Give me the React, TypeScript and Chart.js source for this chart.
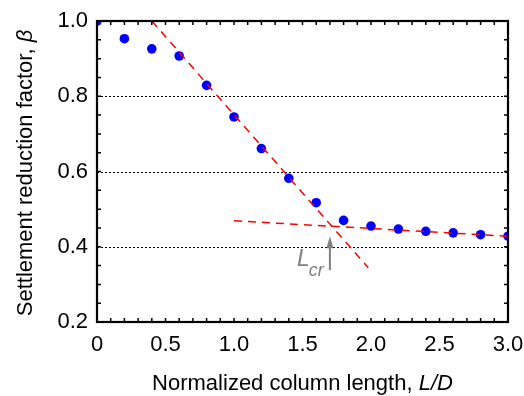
import React, { useEffect, useRef } from 'react';
import { Chart, registerables } from 'chart.js';

Chart.register(...registerables);

// ---- data ----
const lengthRatio = [0, 0.2, 0.4, 0.6, 0.8, 1.0, 1.2, 1.4, 1.6, 1.8, 2.0, 2.2, 2.4, 2.6, 2.8, 3.0];
const beta = [1.0, 0.953, 0.926, 0.907, 0.829, 0.745, 0.661, 0.582, 0.517, 0.47, 0.455, 0.447, 0.441, 0.437, 0.432, 0.428];

const steepFitX = [0.4, 1.98];
const steepFitY = [1.0, 0.344];
const flatFitX = [1.0, 3.0];
const flatFitY = [0.469, 0.428];

const lcrArrowX = 1.7;
const lcrArrowY = [0.338, 0.428];
const lcrLabelPos = [1.46, 0.349];

const xTickValues = [0, 0.5, 1.0, 1.5, 2.0, 2.5, 3.0];
const yTickValues = [0.2, 0.4, 0.6, 0.8, 1.0];
const yGridValues = [0.4, 0.6, 0.8];

const FONT = '"Liberation Sans", Arial, Helvetica, sans-serif';

type Seg = { t: string; italic?: boolean };

function drawSegs(ctx: CanvasRenderingContext2D, segs: Seg[], size: number, cx: number, cy: number) {
  const widths = segs.map((s) => {
    ctx.font = `${s.italic ? 'italic ' : ''}${size}px ${FONT}`;
    return ctx.measureText(s.t).width;
  });
  const total = widths.reduce((a, b) => a + b, 0);
  let x = cx - total / 2;
  ctx.textBaseline = 'middle';
  ctx.textAlign = 'left';
  segs.forEach((s, i) => {
    ctx.font = `${s.italic ? 'italic ' : ''}${size}px ${FONT}`;
    ctx.fillText(s.t, x, cy);
    x += widths[i];
  });
}

const decorPlugin = {
  id: 'decor',
  beforeDatasetsDraw(chart: any) {
    const { ctx, chartArea: a, scales } = chart;
    const ys = scales.y;
    ctx.save();
    ctx.strokeStyle = '#000';
    ctx.lineWidth = 1;
    ctx.setLineDash([2, 2]);
    yGridValues.forEach((v) => {
      const py = Math.round(ys.getPixelForValue(v)) + 0.5;
      ctx.beginPath();
      ctx.moveTo(a.left, py);
      ctx.lineTo(a.right, py);
      ctx.stroke();
    });
    ctx.restore();
  },
  afterDatasetsDraw(chart: any) {
    const { ctx, chartArea: a, scales } = chart;
    const xs = scales.x;
    const ys = scales.y;
    ctx.save();
    // minor ticks
    ctx.strokeStyle = '#000';
    ctx.lineWidth = 1.5;
    ctx.setLineDash([]);
    const tl = 4;
    for (let i = 0; i <= 30; i++) {
      const px = xs.getPixelForValue(i / 10);
      ctx.beginPath();
      ctx.moveTo(px, a.bottom);
      ctx.lineTo(px, a.bottom - tl);
      ctx.moveTo(px, a.top);
      ctx.lineTo(px, a.top + tl);
      ctx.stroke();
    }
    for (let i = 4; i <= 20; i++) {
      const py = ys.getPixelForValue(i * 0.05);
      ctx.beginPath();
      ctx.moveTo(a.left, py);
      ctx.lineTo(a.left + tl, py);
      ctx.moveTo(a.right, py);
      ctx.lineTo(a.right - tl, py);
      ctx.stroke();
    }
    // frame
    ctx.lineWidth = 2.2;
    ctx.strokeRect(a.left, a.top, a.right - a.left, a.bottom - a.top);

    // arrow
    const ax = xs.getPixelForValue(lcrArrowX);
    const ay0 = ys.getPixelForValue(lcrArrowY[0]);
    const ay1 = ys.getPixelForValue(lcrArrowY[1]);
    ctx.strokeStyle = '#808080';
    ctx.fillStyle = '#808080';
    ctx.lineWidth = 2;
    ctx.beginPath();
    ctx.moveTo(ax, ay0);
    ctx.lineTo(ax, ay1 + 10);
    ctx.stroke();
    ctx.beginPath();
    ctx.moveTo(ax, ay1);
    ctx.lineTo(ax - 3.5, ay1 + 12);
    ctx.lineTo(ax + 3.5, ay1 + 12);
    ctx.closePath();
    ctx.fill();

    // L_cr label
    const lx = xs.getPixelForValue(lcrLabelPos[0]);
    const ly = ys.getPixelForValue(lcrLabelPos[1]);
    ctx.textAlign = 'left';
    ctx.textBaseline = 'alphabetic';
    ctx.font = `italic 23px ${FONT}`;
    ctx.fillText('L', lx, ly);
    const lw = ctx.measureText('L').width;
    ctx.font = `italic 18px ${FONT}`;
    ctx.fillText('cr', lx + lw - 1, ly + 10);

    // axis titles
    ctx.fillStyle = '#000';
    drawSegs(ctx, [{ t: 'Normalized column length, ' }, { t: 'L/D', italic: true }], 22, (a.left + a.right) / 2, 384);
    ctx.save();
    ctx.translate(26, 173);
    ctx.rotate(-Math.PI / 2);
    drawSegs(ctx, [{ t: 'Settlement reduction factor, ' }, { t: 'β', italic: true }], 22, 0, 0);
    ctx.restore();
    ctx.restore();
  },
};

export default function App() {
  const ref = useRef<HTMLCanvasElement>(null);
  useEffect(() => {
    document.body.style.margin = '0';
    const canvas = ref.current;
    if (!canvas) return;
    const chart = new Chart(canvas, {
      type: 'scatter',
      data: {
        datasets: [
          {
            type: 'line',
            data: steepFitX.map((x, i) => ({ x, y: steepFitY[i] })),
            borderColor: '#ff0000',
            borderWidth: 1.5,
            borderDash: [8, 6],
            pointRadius: 0,
            fill: false,
            clip: 0,
          } as any,
          {
            type: 'line',
            data: flatFitX.map((x, i) => ({ x, y: flatFitY[i] })),
            borderColor: '#ff0000',
            borderWidth: 1.5,
            borderDash: [8, 6],
            pointRadius: 0,
            fill: false,
            clip: 0,
          } as any,
          {
            type: 'scatter',
            data: lengthRatio.map((x, i) => ({ x, y: beta[i] })),
            backgroundColor: '#0000ff',
            borderColor: '#0000ff',
            pointRadius: 4.8,
            borderWidth: 0,
            clip: 0,
          } as any,
        ],
      },
      options: {
        animation: false,
        responsive: false,
        events: [],
        layout: { padding: { left: 0, right: 16, top: 21, bottom: 0 } },
        plugins: { legend: { display: false }, tooltip: { enabled: false } },
        scales: {
          x: {
            type: 'linear',
            min: 0,
            max: 3,
            grid: { display: false, drawTicks: false },
            border: { display: false },
            afterBuildTicks: (s: any) => {
              s.ticks = xTickValues.map((v) => ({ value: v }));
            },
            afterFit: (s: any) => {
              s.height = 74;
              s.paddingLeft = 0;
              s.paddingRight = 0;
            },
            ticks: {
              padding: 10,
              color: '#000',
              font: { size: 22, family: FONT },
              maxRotation: 0,
              callback: (v: any) => (v === 0 ? '0' : Number(v).toFixed(1)),
            },
          },
          y: {
            type: 'linear',
            min: 0.2,
            max: 1.0,
            grid: { display: false, drawTicks: false },
            border: { display: false },
            afterBuildTicks: (s: any) => {
              s.ticks = yTickValues.map((v) => ({ value: v }));
            },
            afterFit: (s: any) => {
              s.width = 97;
              s.paddingTop = 0;
              s.paddingBottom = 0;
            },
            ticks: {
              padding: 9,
              color: '#000',
              font: { size: 22, family: FONT },
              callback: (v: any) => Number(v).toFixed(1),
            },
          },
        },
      },
      plugins: [decorPlugin],
    });
    return () => chart.destroy();
  }, []);
  return (
    <div style={{ position: 'fixed', left: 0, top: 0, width: 524, height: 396, background: '#fff' }}>
      <canvas ref={ref} width={524} height={396} />
    </div>
  );
}
